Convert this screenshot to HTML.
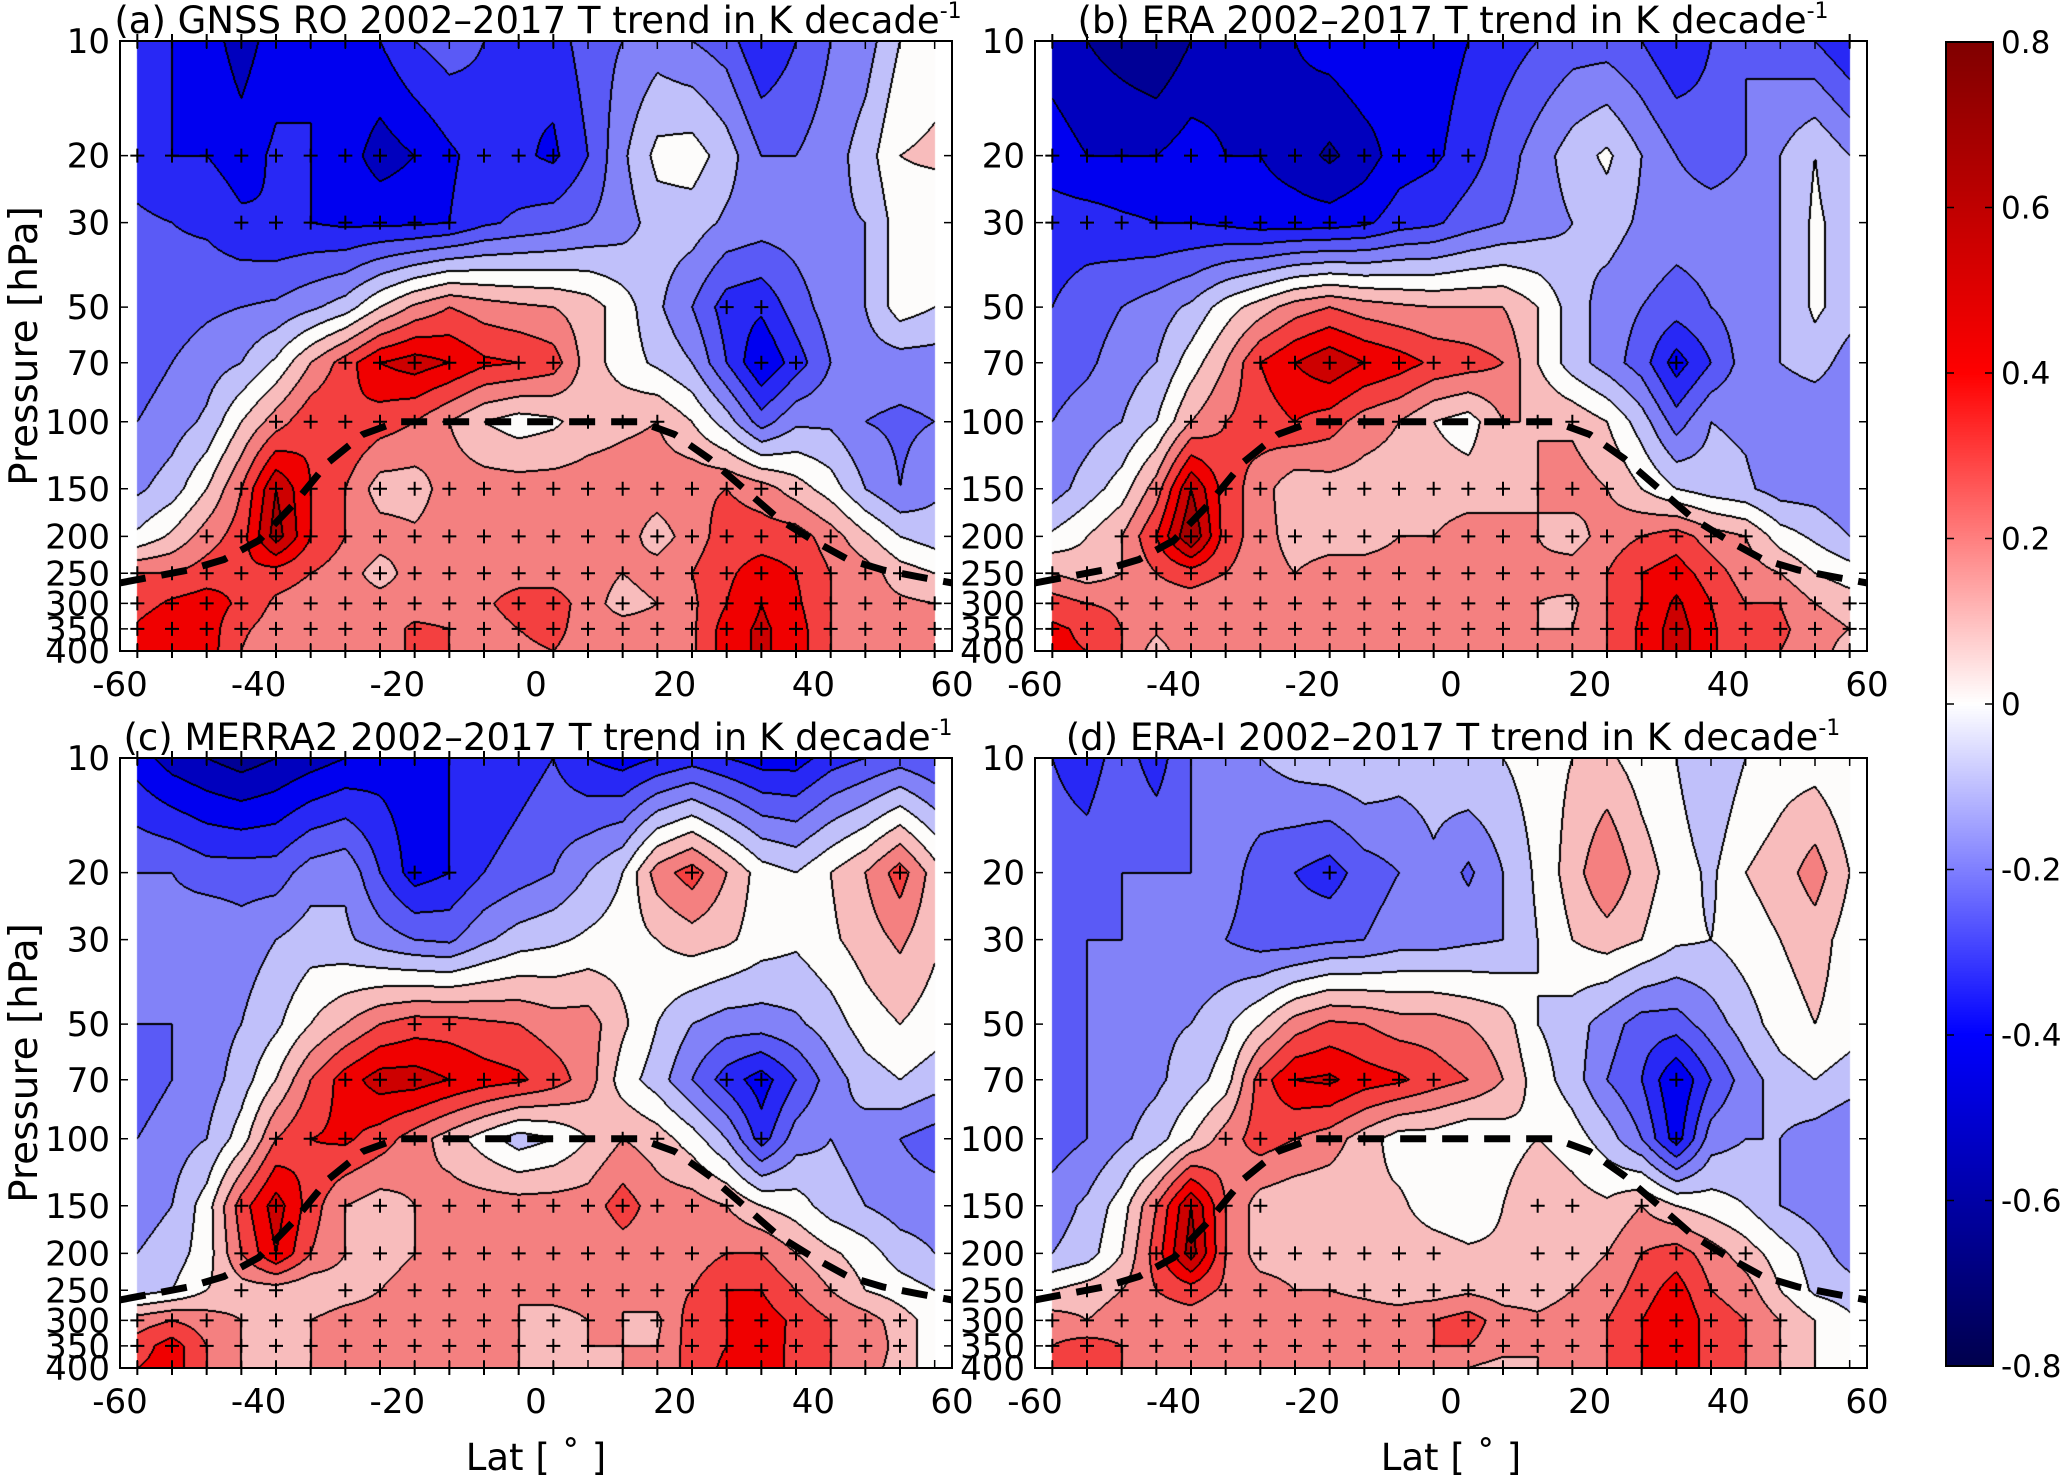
<!DOCTYPE html>
<html><head><meta charset="utf-8">
<style>
html,body{margin:0;padding:0;background:#fff;}
#root{position:relative;width:2067px;height:1478px;overflow:hidden;background:#fff;font-family:"DejaVu Sans","Liberation Sans",sans-serif;}
canvas{position:absolute;}
svg{position:absolute;left:0;top:0;}
</style></head>
<body>
<div id="root">
<canvas id="cA"></canvas>
<canvas id="cB"></canvas>
<canvas id="cC"></canvas>
<canvas id="cD"></canvas>
<canvas id="cbar"></canvas>
<svg id="ov" width="2067" height="1478"></svg>
</div>
<script>
const latitudes=[-57.5,-52.5,-47.5,-42.5,-37.5,-32.5,-27.5,-22.5,-17.5,-12.5,-7.5,-2.5,2.5,7.5,12.5,17.5,22.5,27.5,32.5,37.5,42.5,47.5,52.5,57.5];
const pressureLevels=[10,20,30,50,70,100,150,200,250,300,350,400];
const latTicks=[-60,-40,-20,0,20,40,60];
const presTicks=[10,20,30,50,70,100,150,200,250,300,350,400];
const cbarTicks=[0.8,0.6,0.4,0.2,0,-0.2,-0.4,-0.6,-0.8];
const tropLat=[-60,-50,-45,-40,-35,-30,-25,-20,-10,0,10,15,20,25,30,35,40,45,50,55,60];
const tropPres=[265,245,230,205,165,128,108,100,100,100,100,100,108,125,150,180,205,230,245,255,265];
const trendA=[
[-0.35,-0.4,-0.45,-0.55,-0.45,-0.4,-0.4,-0.4,-0.3,-0.25,-0.3,-0.4,-0.35,-0.25,-0.2,-0.15,-0.2,-0.25,-0.4,-0.3,-0.2,-0.15,0.0,0.05],
[-0.35,-0.4,-0.4,-0.45,-0.38,-0.4,-0.45,-0.55,-0.5,-0.42,-0.35,-0.38,-0.42,-0.3,-0.12,0.03,0.05,-0.05,-0.2,-0.2,-0.15,-0.05,0.1,0.12],
[-0.28,-0.3,-0.32,-0.38,-0.4,-0.4,-0.42,-0.42,-0.42,-0.4,-0.32,-0.28,-0.25,-0.2,-0.15,-0.05,-0.05,-0.12,-0.15,-0.15,-0.12,-0.1,0.05,0.02],
[-0.25,-0.25,-0.22,-0.2,-0.18,-0.12,-0.05,0.1,0.22,0.3,0.25,0.22,0.2,0.15,0.05,-0.08,-0.2,-0.35,-0.38,-0.25,-0.15,-0.1,0.05,0.0],
[-0.25,-0.2,-0.15,-0.1,0.02,0.2,0.35,0.5,0.55,0.5,0.42,0.4,0.35,0.15,0.05,-0.02,-0.1,-0.3,-0.5,-0.35,-0.2,-0.15,-0.15,-0.15],
[-0.2,-0.15,-0.08,0.1,0.25,0.38,0.4,0.35,0.3,0.2,0.1,0.05,0.08,0.15,0.18,0.2,0.1,-0.05,-0.25,-0.12,-0.12,-0.2,-0.22,-0.2],
[-0.12,-0.05,0.1,0.3,0.6,0.4,0.3,0.15,0.15,0.25,0.25,0.25,0.25,0.25,0.25,0.25,0.28,0.3,0.25,0.15,0.05,-0.1,-0.2,-0.12],
[0.02,0.12,0.25,0.35,0.65,0.4,0.3,0.25,0.22,0.25,0.25,0.25,0.25,0.25,0.25,0.15,0.25,0.35,0.35,0.35,0.25,0.12,0.0,-0.05],
[0.3,0.3,0.35,0.38,0.35,0.3,0.25,0.15,0.25,0.25,0.25,0.25,0.25,0.25,0.2,0.25,0.3,0.38,0.45,0.4,0.3,0.25,0.15,0.1],
[0.35,0.42,0.45,0.38,0.28,0.25,0.25,0.25,0.25,0.25,0.28,0.35,0.35,0.25,0.15,0.2,0.28,0.4,0.5,0.42,0.3,0.25,0.22,0.2],
[0.42,0.5,0.45,0.32,0.25,0.25,0.25,0.25,0.32,0.3,0.25,0.3,0.33,0.25,0.25,0.25,0.28,0.45,0.52,0.45,0.3,0.28,0.25,0.22],
[0.4,0.5,0.45,0.3,0.2,0.25,0.25,0.25,0.32,0.3,0.25,0.28,0.3,0.25,0.2,0.25,0.28,0.45,0.52,0.45,0.3,0.28,0.25,0.2]];
const trendB=[
[-0.55,-0.6,-0.65,-0.7,-0.6,-0.55,-0.5,-0.5,-0.45,-0.4,-0.45,-0.45,-0.4,-0.35,-0.3,-0.25,-0.25,-0.3,-0.4,-0.3,-0.2,-0.25,-0.3,-0.4],
[-0.45,-0.5,-0.5,-0.5,-0.45,-0.5,-0.5,-0.55,-0.62,-0.55,-0.45,-0.42,-0.35,-0.25,-0.15,-0.05,0.02,-0.1,-0.2,-0.25,-0.2,-0.1,0.0,-0.1],
[-0.35,-0.35,-0.38,-0.4,-0.4,-0.42,-0.45,-0.45,-0.45,-0.42,-0.35,-0.32,-0.25,-0.2,-0.15,-0.1,-0.05,-0.12,-0.15,-0.15,-0.15,-0.1,0.02,-0.05],
[-0.3,-0.25,-0.2,-0.15,-0.08,0.05,0.15,0.25,0.3,0.25,0.22,0.2,0.2,0.2,0.1,-0.05,-0.15,-0.2,-0.25,-0.2,-0.15,-0.1,0.02,-0.05],
[-0.25,-0.22,-0.15,-0.1,0.05,0.2,0.4,0.5,0.58,0.5,0.45,0.38,0.35,0.3,0.1,-0.05,-0.15,-0.25,-0.45,-0.3,-0.15,-0.1,-0.05,-0.15],
[-0.2,-0.15,-0.1,0.0,0.2,0.3,0.35,0.4,0.35,0.25,0.2,0.1,0.05,0.2,0.2,0.18,0.1,-0.05,-0.25,-0.1,-0.12,-0.2,-0.2,-0.2],
[-0.15,-0.05,0.05,0.25,0.6,0.35,0.25,0.12,0.15,0.15,0.15,0.15,0.15,0.15,0.2,0.25,0.2,0.1,0.0,-0.05,-0.08,-0.15,-0.15,-0.2],
[0.02,0.1,0.2,0.4,0.7,0.35,0.25,0.15,0.15,0.15,0.2,0.2,0.25,0.25,0.2,0.15,0.25,0.3,0.35,0.25,0.2,0.05,-0.02,-0.1],
[0.2,0.15,0.2,0.3,0.35,0.3,0.25,0.2,0.25,0.25,0.25,0.25,0.25,0.25,0.22,0.25,0.3,0.4,0.45,0.35,0.25,0.2,0.1,0.05],
[0.35,0.3,0.28,0.25,0.25,0.22,0.25,0.25,0.25,0.25,0.25,0.25,0.25,0.25,0.2,0.18,0.3,0.4,0.52,0.4,0.3,0.3,0.2,0.15],
[0.42,0.38,0.3,0.22,0.28,0.3,0.25,0.25,0.25,0.25,0.25,0.25,0.25,0.25,0.2,0.2,0.3,0.42,0.55,0.42,0.3,0.32,0.25,0.2],
[0.42,0.4,0.3,0.15,0.28,0.3,0.25,0.25,0.25,0.25,0.25,0.25,0.25,0.25,0.2,0.2,0.3,0.42,0.55,0.42,0.3,0.3,0.25,0.15]];
const trendC=[
[-0.45,-0.55,-0.6,-0.65,-0.6,-0.55,-0.5,-0.45,-0.45,-0.4,-0.4,-0.35,-0.3,-0.4,-0.45,-0.4,-0.35,-0.4,-0.45,-0.45,-0.35,-0.3,-0.25,-0.3],
[-0.2,-0.2,-0.25,-0.25,-0.25,-0.15,-0.12,-0.3,-0.45,-0.4,-0.3,-0.25,-0.2,-0.1,0.0,0.25,0.35,0.2,0.05,0.0,0.1,0.2,0.35,0.15],
[-0.2,-0.15,-0.1,-0.15,-0.1,-0.05,-0.08,-0.15,-0.2,-0.22,-0.12,-0.05,-0.02,0.02,0.05,0.1,0.15,0.12,0.05,0.02,0.08,0.15,0.22,0.12],
[-0.2,-0.2,-0.15,-0.1,-0.02,0.1,0.2,0.3,0.35,0.35,0.32,0.3,0.25,0.25,0.12,0.0,-0.1,-0.15,-0.15,-0.12,-0.05,0.05,0.1,0.05],
[-0.25,-0.2,-0.15,-0.05,0.1,0.3,0.45,0.55,0.55,0.5,0.45,0.42,0.35,0.25,0.05,-0.05,-0.2,-0.35,-0.45,-0.3,-0.15,-0.05,0.0,-0.05],
[-0.2,-0.15,-0.1,0.05,0.3,0.4,0.42,0.35,0.25,0.15,0.05,-0.05,0.0,0.1,0.2,0.15,0.05,-0.1,-0.35,-0.15,-0.1,-0.15,-0.2,-0.25],
[-0.15,-0.1,0.05,0.35,0.55,0.35,0.2,0.15,0.2,0.25,0.25,0.25,0.25,0.25,0.35,0.25,0.25,0.2,0.1,0.05,-0.05,-0.1,-0.15,-0.15],
[-0.1,-0.05,0.05,0.3,0.5,0.3,0.2,0.15,0.2,0.25,0.25,0.25,0.25,0.2,0.25,0.25,0.25,0.3,0.3,0.2,0.12,0.05,-0.05,-0.1],
[-0.05,0.0,0.1,0.15,0.15,0.12,0.15,0.2,0.25,0.25,0.2,0.2,0.25,0.25,0.2,0.25,0.3,0.4,0.4,0.3,0.2,0.1,0.05,0.0],
[0.25,0.3,0.25,0.2,0.15,0.2,0.25,0.25,0.2,0.2,0.2,0.2,0.15,0.2,0.2,0.18,0.35,0.4,0.45,0.38,0.3,0.25,0.15,0.05],
[0.35,0.45,0.3,0.2,0.15,0.2,0.25,0.25,0.25,0.2,0.2,0.2,0.2,0.2,0.2,0.2,0.35,0.4,0.5,0.35,0.3,0.3,0.15,0.05],
[0.4,0.45,0.3,0.2,0.15,0.2,0.25,0.25,0.25,0.22,0.2,0.2,0.15,0.1,0.2,0.2,0.35,0.42,0.5,0.35,0.3,0.25,0.15,0.05]];
const trendD=[
[-0.3,-0.35,-0.25,-0.35,-0.2,-0.15,-0.1,-0.05,-0.02,0.0,-0.05,-0.05,0.0,0.0,0.05,0.1,0.12,0.05,0.0,-0.1,0.0,0.05,0.05,0.0],
[-0.25,-0.25,-0.2,-0.2,-0.2,-0.15,-0.25,-0.3,-0.35,-0.25,-0.2,-0.12,-0.22,-0.1,0.02,0.15,0.3,0.15,0.05,-0.02,0.1,0.15,0.25,0.1],
[-0.25,-0.2,-0.2,-0.2,-0.2,-0.2,-0.25,-0.25,-0.22,-0.2,-0.15,-0.15,-0.12,-0.1,0.0,0.1,0.15,0.1,0.02,0.0,0.05,0.1,0.15,0.05],
[-0.25,-0.2,-0.15,-0.12,-0.1,-0.02,0.1,0.25,0.32,0.3,0.25,0.25,0.2,0.15,0.0,-0.05,-0.15,-0.25,-0.25,-0.15,-0.05,0.05,0.1,0.05],
[-0.25,-0.2,-0.15,-0.12,-0.05,0.05,0.35,0.5,0.52,0.45,0.42,0.35,0.3,0.2,0.05,-0.05,-0.2,-0.3,-0.5,-0.3,-0.15,-0.05,0.0,-0.05],
[-0.25,-0.2,-0.12,-0.05,0.1,0.25,0.35,0.3,0.25,0.15,0.05,0.05,0.0,0.05,0.1,0.05,-0.05,-0.2,-0.45,-0.15,-0.1,-0.1,-0.15,-0.2],
[-0.15,-0.08,0.05,0.3,0.6,0.3,0.15,0.12,0.12,0.12,0.12,0.05,0.02,0.1,0.2,0.15,0.12,0.2,0.1,0.05,0.0,-0.1,-0.15,-0.2],
[-0.1,-0.05,0.1,0.35,0.65,0.3,0.15,0.15,0.15,0.15,0.15,0.15,0.12,0.12,0.15,0.15,0.2,0.3,0.35,0.25,0.15,0.05,-0.05,-0.15],
[0.1,0.15,0.2,0.3,0.35,0.28,0.25,0.2,0.2,0.18,0.15,0.15,0.18,0.15,0.15,0.2,0.25,0.35,0.45,0.3,0.25,0.1,-0.02,-0.05],
[0.25,0.2,0.25,0.25,0.25,0.22,0.25,0.25,0.25,0.25,0.25,0.3,0.35,0.25,0.22,0.25,0.3,0.4,0.5,0.35,0.3,0.2,0.1,0.02],
[0.3,0.35,0.3,0.25,0.25,0.25,0.25,0.25,0.25,0.25,0.25,0.3,0.3,0.25,0.2,0.25,0.3,0.4,0.5,0.35,0.3,0.2,0.1,0.0],
[0.3,0.35,0.3,0.2,0.2,0.2,0.25,0.25,0.25,0.2,0.2,0.25,0.2,0.15,0.2,0.25,0.3,0.4,0.5,0.35,0.3,0.2,0.1,0.0]];
const panelTitles=["(a) GNSS RO 2002\u20132017 T trend in K decade","(b) ERA 2002\u20132017 T trend in K decade","(c) MERRA2 2002\u20132017 T trend in K decade","(d) ERA-I 2002\u20132017 T trend in K decade"];

const PW=832,PH=610;
const panels=[{id:'cA',x:120,y:41,d:trendA,n:'a',ylab:true,xlab:false},
{id:'cB',x:1035,y:41,d:trendB,n:'b',ylab:false,xlab:false},
{id:'cC',x:120,y:758,d:trendC,n:'c',ylab:true,xlab:true},
{id:'cD',x:1035,y:758,d:trendD,n:'d',ylab:false,xlab:true}];
const NS='http://www.w3.org/2000/svg';
const ov=document.getElementById('ov');
function mk(tag,attrs,parent){const e=document.createElementNS(NS,tag);for(const k in attrs)e.setAttribute(k,attrs[k]);(parent||ov).appendChild(e);return e;}
const pal={'-8':[0,0,110],'-7':[0,0,150],'-6':[0,0,190],'-5':[0,0,240],'-4':[40,40,245],'-3':[90,90,246],'-2':[130,130,248],'-1':[192,192,250],
'0':[253,252,251],'1':[248,188,188],'2':[244,128,128],'3':[243,64,64],'4':[240,0,0],'5':[205,0,0],'6':[165,0,0],'7':[128,0,0]};
const LOG40=Math.log10(40);
function xS(p,lat){return p.x+(lat+60)/120*PW;}
function yS(p,pr){return p.y+Math.log10(pr/10)/LOG40*PH;}
function interp(d,lat,lp){
  let fi=(lat-latitudes[0])/5; fi=Math.max(0,Math.min(latitudes.length-1,fi));
  let i0=Math.min(latitudes.length-2,Math.floor(fi)),tx=fi-i0;
  let j0=0; while(j0<pressureLevels.length-2 && Math.log10(pressureLevels[j0+1])<lp) j0++;
  const a=Math.log10(pressureLevels[j0]),b=Math.log10(pressureLevels[j0+1]);
  let ty=Math.max(0,Math.min(1,(lp-a)/(b-a)));
  const v00=d[j0][i0],v01=d[j0][i0+1],v10=d[j0+1][i0],v11=d[j0+1][i0+1];
  return (v00*(1-tx)+v01*tx)*(1-ty)+(v10*(1-tx)+v11*tx)*ty;
}
panels.forEach(p=>{
  const c=document.getElementById(p.id);c.width=PW;c.height=PH;c.style.left=p.x+'px';c.style.top=p.y+'px';
  const ctx=c.getContext('2d');const img=ctx.createImageData(PW,PH);
  const K=new Int16Array(PW*PH);const inside=new Uint8Array(PW*PH);
  for(let y=0;y<PH;y++){const lp=1+(y+0.5)/PH*LOG40;
    for(let x=0;x<PW;x++){const lat=-60+(x+0.5)/PW*120;
      const idx=y*PW+x;
      if(lat<latitudes[0]||lat>latitudes[latitudes.length-1]){inside[idx]=0;continue;}
      inside[idx]=1;
      let k=Math.floor(interp(p.d,lat,lp)*10+1e-9);k=Math.max(-8,Math.min(7,k));K[idx]=k;}}
  for(let y=0;y<PH;y++)for(let x=0;x<PW;x++){const idx=y*PW+x;let col=[255,255,255];
    if(inside[idx]){col=pal[K[idx]];
      const k=K[idx];let edge=false;
      if(x+1<PW&&inside[idx+1]&&K[idx+1]!==k)edge=true;
      if(x>0&&inside[idx-1]&&K[idx-1]!==k)edge=true;
      if(y+1<PH&&K[idx+PW]!==k)edge=true;
      if(y>0&&K[idx-PW]!==k)edge=true;
      if(edge)col=[0,0,0];}
    img.data[idx*4]=col[0];img.data[idx*4+1]=col[1];img.data[idx*4+2]=col[2];img.data[idx*4+3]=255;}
  ctx.putImageData(img,0,0);

  const g=mk('g',{});
  
  
  const cg=mk('g',{stroke:'#000','stroke-width':2},g);
  
  
  pressureLevels.forEach((pr,j)=>latitudes.forEach((lat,i)=>{const v=p.d[j][i];
    if((pr>=100&&v>=0.15)||Math.abs(v)>=0.35){const cx=xS(p,lat),cy=yS(p,pr);
      const m=mk('path',{d:`M${cx-7} ${cy}h14M${cx} ${cy-7}v14`},cg);
      
      }}));
  const pts=tropLat.map((l,i)=>xS(p,l).toFixed(1)+','+yS(p,tropPres[i]).toFixed(1)).join(' ');
  const tl=mk('polyline',{points:pts,fill:'none',stroke:'#000','stroke-width':7,'stroke-dasharray':'26 16'},g);
  
  
  const fr=mk('rect',{x:p.x,y:p.y,width:PW,height:PH,fill:'none',stroke:'#000','stroke-width':2},g);
  
  
  const tg=mk('g',{stroke:'#000','stroke-width':1.5},g);
  latitudes.forEach(l=>{const x=xS(p,l);mk('path',{d:`M${x} ${p.y+PH}v-8M${x} ${p.y}v8`},tg);});
  presTicks.forEach(pr=>{const y=yS(p,pr);mk('path',{d:`M${p.x} ${y}h8M${p.x+PW} ${y}h-8`},tg);});
  latTicks.forEach(l=>{const t=mk('text',{x:xS(p,l),y:p.y+PH+45,'text-anchor':'middle','font-size':34},g);t.textContent=l;
    
    });
  presTicks.forEach(pr=>{const t=mk('text',{x:p.x-10,y:yS(p,pr)+12,'text-anchor':'end','font-size':34},g);t.textContent=pr;
    
    });
  const ti=mk('text',{x:p.x+PW/2+2,y:p.y-8,'text-anchor':'middle','font-size':37},g);
  ti.textContent=panelTitles[panels.indexOf(p)];
  const sup=mk('tspan',{'font-size':22,dy:-15},ti);sup.textContent='-1';
  
  
  if(p.ylab){const yl=mk('text',{transform:`translate(37,${p.y+PH/2}) rotate(-90)`,'text-anchor':'middle','font-size':39},g);yl.textContent='Pressure [hPa]';
    
    }
  if(p.xlab){const xl=mk('text',{x:p.x+PW/2,y:1470,'text-anchor':'middle','font-size':37},g);xl.textContent='Lat [ \u02DA ]';
    
    }
});
(function(){const cx=1946,cy=42,cw=47,ch=1324;const c=document.getElementById('cbar');c.width=cw;c.height=ch;c.style.left=cx+'px';c.style.top=cy+'px';
  const ctx=c.getContext('2d');
  const stops=[[0,[128,0,0]],[0.25,[255,0,0]],[0.5,[255,255,255]],[0.75,[0,0,255]],[1,[0,0,77]]];
  for(let y=0;y<ch;y++){const t=y/(ch-1);let s=0;while(s<stops.length-2&&t>stops[s+1][0])s++;
    const a=stops[s],b=stops[s+1],f=(t-a[0])/(b[0]-a[0]);
    const col=a[1].map((v,i)=>Math.round(v+(b[1][i]-v)*f));ctx.fillStyle=`rgb(${col})`;ctx.fillRect(0,y,cw,1);}
  const g=mk('g',{});
  
  
  mk('rect',{x:cx,y:cy,width:cw,height:ch,fill:'none',stroke:'#000','stroke-width':2},g);
  cbarTicks.forEach(v=>{const y=cy+(0.8-v)/1.6*ch;mk('path',{d:`M${cx} ${y}h8M${cx+cw} ${y}h-8`,stroke:'#000','stroke-width':1.5},g);
    const t=mk('text',{x:cx+cw+8,y:y+11,'font-size':31},g);t.textContent=(v===0?'0':v.toFixed(1));
    
    });
})();
</script>
</body></html>
